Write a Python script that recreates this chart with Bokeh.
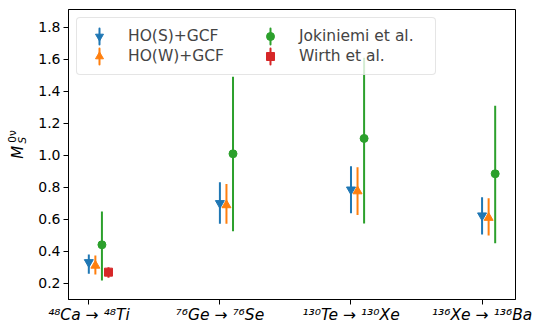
import math
from bokeh.plotting import figure
from bokeh.layouts import row
from bokeh.models import Range1d, FixedTicker, Label, Legend, LegendItem, PrintfTickFormatter
from bokeh.embed import file_html
from bokeh.resources import INLINE

# ---- data ----
transitions = ["⁴⁸Ca → ⁴⁸Ti", "⁷⁶Ge → ⁷⁶Se", "¹³⁰Te → ¹³⁰Xe", "¹³⁶Xe → ¹³⁶Ba"]

ho_s = [0.331, 0.700, 0.785, 0.623]
ho_s_lo = [0.259, 0.571, 0.637, 0.504]
ho_s_hi = [0.379, 0.831, 0.931, 0.737]

ho_w = [0.310, 0.688, 0.775, 0.609]
ho_w_lo = [0.254, 0.571, 0.627, 0.498]
ho_w_hi = [0.373, 0.820, 0.925, 0.731]

jokiniemi = [0.440, 1.009, 1.105, 0.884]
jokiniemi_lo = [0.217, 0.525, 0.573, 0.450]
jokiniemi_hi = [0.648, 1.490, 1.610, 1.310]

wirth = [0.269]
wirth_lo = [0.234]
wirth_hi = [0.300]

y_ticks = [0.2, 0.4, 0.6, 0.8, 1.0, 1.2, 1.4, 1.6, 1.8]

# ---- main figure ----
X0, X1 = -0.155, 3.255
Y0, Y1 = 0.098, 1.911
LABEL_W = 30

p = figure(frame_width=447, frame_height=290, output_backend="svg", toolbar_location=None,
           x_range=Range1d(X0, X1), y_range=Range1d(Y0, Y1),
           min_border_left=68 - LABEL_W, min_border_right=20, min_border_top=9,
           min_border_bottom=0,
           background_fill_color="white", border_fill_color="white")
p.grid.visible = False
p.outline_line_color = "black"
p.outline_line_width = 1
p.outline_line_alpha = 1

for ax in (p.xaxis, p.yaxis):
    ax.axis_line_color = "black"
    ax.major_tick_line_color = "black"
    ax.major_tick_out = 5
    ax.major_tick_in = 0
    ax.minor_tick_line_color = None
    ax.major_label_text_font = "DejaVu Sans"
    ax.major_label_text_color = "black"

p.yaxis.ticker = FixedTicker(ticks=y_ticks)
p.yaxis.formatter = PrintfTickFormatter(format="%.1f")
p.yaxis.major_label_text_font_size = "14px"
p.yaxis.major_label_standoff = 3

p.xaxis.ticker = FixedTicker(ticks=list(range(len(transitions))))
p.xaxis.major_label_overrides = {i: t for i, t in enumerate(transitions)}
p.xaxis.major_label_text_font_size = "15.5px"
p.xaxis.major_label_text_font_style = "italic"
p.xaxis.major_label_standoff = 1

series = [
    ("HO(S)+GCF", ho_s, ho_s_lo, ho_s_hi, 0.00, "#1f77b4", "inverted_triangle", 9),
    ("HO(W)+GCF", ho_w, ho_w_lo, ho_w_hi, 0.05, "#ff7f0e", "triangle", 9),
    ("Jokiniemi et al.", jokiniemi, jokiniemi_lo, jokiniemi_hi, 0.10, "#2ca02c", "circle", 8),
    ("Wirth et al.", wirth, wirth_lo, wirth_hi, 0.15, "#d62728", "square", 8),
]

nan = float("nan")
items = []
for name, vals, lo, hi, off, col, marker, size in series:
    xs = [i + off for i in range(len(vals))]
    p.segment(x0=xs, y0=lo, x1=xs, y1=hi, line_color=col, line_width=2)
    sc = p.scatter(x=xs, y=vals, marker=marker, size=size, fill_color=col,
                   line_color=col, line_width=1)
    # legend-only vertical error-bar stroke (thin tall ellipse, never drawn in the plot)
    eb = p.ellipse(x=[nan], y=[nan], width=0.01, height=10, width_units="screen",
                   height_units="screen", fill_alpha=0, line_color=col, line_width=2)
    items.append(LegendItem(label=name, renderers=[eb, sc]))

legend = Legend(items=items, location="top_left", ncols=2,
                label_text_font="DejaVu Sans", label_text_font_size="15.5px",
                glyph_width=28, glyph_height=20, label_standoff=15, label_width=128,
                label_height=20, spacing=0, padding=8, margin=8,
                border_line_color="#cccccc", border_line_width=1,
                background_fill_color="white", background_fill_alpha=0.8)
if "border_radius" in Legend.properties():
    legend.border_radius = 4
p.add_layout(legend)

# ---- narrow strip on the left carrying the y-axis label  M_S^{0nu} ----
lab_fig = figure(width=LABEL_W, height=322, output_backend="svg", toolbar_location=None,
                 x_range=Range1d(0, LABEL_W), y_range=Range1d(322, 0),
                 x_axis_location=None, y_axis_location=None, min_border=0,
                 outline_line_color=None, background_fill_color="white",
                 border_fill_color="white")
lab_fig.grid.visible = False

def lab(x, y, text, size, style="normal"):
    lab_fig.add_layout(Label(x=x, y=y, text=text, angle=90, angle_units="deg",
                             text_font="DejaVu Sans", text_font_style=style,
                             text_font_size=size, text_color="black"))

lab(26, 168, "M", "15px", "italic")
lab(27, 151, "S", "10.5px", "italic")
lab(17, 150, "0ν", "10.5px")

layout = row(lab_fig, p)
open("out.html", "w").write(file_html(layout, INLINE))
